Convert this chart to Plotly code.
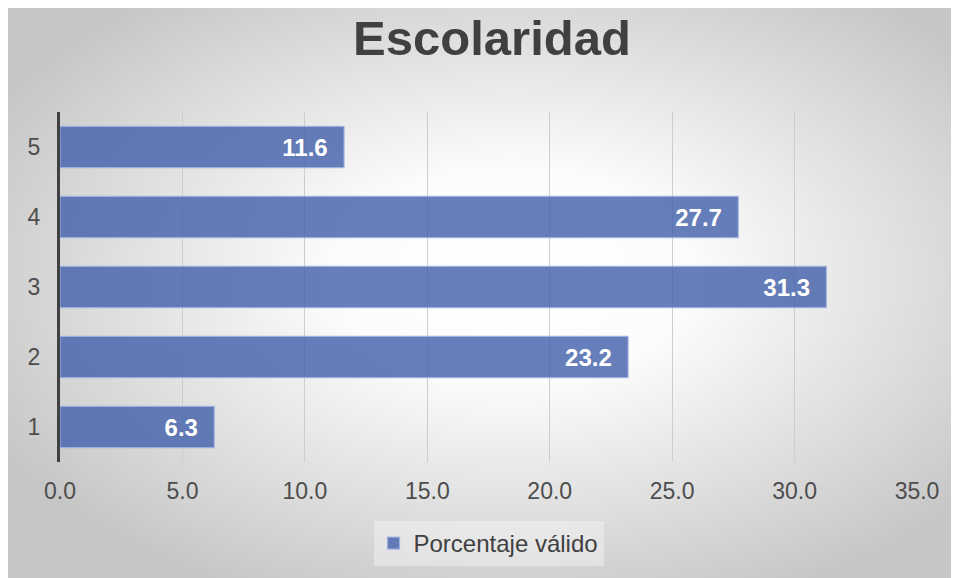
import base64
import plotly.graph_objects as go

categories = ["1", "2", "3", "4", "5"]
values = [6.3, 23.2, 31.3, 27.7, 11.6]
x_ticks = [0, 5, 10, 15, 20, 25, 30, 35]
x_tick_labels = ["0.0", "5.0", "10.0", "15.0", "20.0", "25.0", "30.0", "35.0"]
series_name = "Porcentaje válido"
title_text = "Escolaridad"

# page offset of the figure is (8, 8) because of the default body margin
W, H = 951, 570
L, R, T, B = 52, 42, 104, 116
pw, ph = W - L - R, H - T - B

svg = f'''<svg xmlns="http://www.w3.org/2000/svg" width="{W}" height="{H}" viewBox="0 0 {W} {H}" preserveAspectRatio="none">
<defs><radialGradient id="g" cx="0.53" cy="0.47" r="0.62" gradientUnits="objectBoundingBox">
<stop offset="0" stop-color="#ffffff"/><stop offset="0.3" stop-color="#fcfcfc"/><stop offset="1" stop-color="#c6c6c6"/></radialGradient></defs>
<rect x="0" y="0" width="{W}" height="{H}" fill="url(#g)"/></svg>'''
src = "data:image/svg+xml;base64," + base64.b64encode(svg.encode()).decode()

fig = go.Figure()
fig.add_trace(go.Bar(
    y=categories, x=values, orientation="h", name=series_name,
    marker=dict(color="rgba(68,97,170,0.82)", line=dict(color="rgba(160,178,225,0.9)", width=1.2)),
    width=0.59,
    text=[f"{v:.1f}&nbsp;&nbsp;" for v in values], textposition="inside",
    insidetextanchor="end",
    textfont=dict(family="Liberation Sans, Arial", size=24, color="white", weight="bold"),
    hoverinfo="x+y",
))

fig.update_layout(
    width=W, height=H,
    margin=dict(l=L, r=R, t=T, b=B, pad=0),
    paper_bgcolor="#ffffff", plot_bgcolor="rgba(0,0,0,0)",
    font=dict(family="Liberation Sans, Arial", color="#4d4d4d"),
    title=dict(text=title_text, x=484 / W, xanchor="center", y=1 - 30 / H, yanchor="middle",
               font=dict(family="Liberation Sans, Arial", size=49, color="#404040", weight="bold")),
    xaxis=dict(range=[0, 35], tickvals=x_ticks, ticktext=x_tick_labels,
               showgrid=True, gridcolor="#cdcdcd", gridwidth=1, zeroline=False,
               showline=False, ticks="", ticklabelstandoff=13,
               tickfont=dict(size=23, color="#4d4d4d")),
    yaxis=dict(type="category", categoryorder="array", categoryarray=categories,
               showgrid=False, zeroline=False, showline=True, linecolor="#404040", linewidth=3,
               ticks="", ticklabelstandoff=12, tickfont=dict(size=23, color="#4d4d4d")),
    showlegend=True,
    legend=dict(orientation="h", x=0.5, xanchor="center", y=-59 / ph, yanchor="top",
                bgcolor="rgba(255,255,255,0.35)", font=dict(size=24, color="#404040")),
    images=[dict(source=src, xref="paper", yref="paper", x=-L / pw, y=1 + T / ph,
                 sizex=W / pw, sizey=H / ph, sizing="stretch", layer="below", xanchor="left", yanchor="top")],
)

fig.write_html("out.html")
